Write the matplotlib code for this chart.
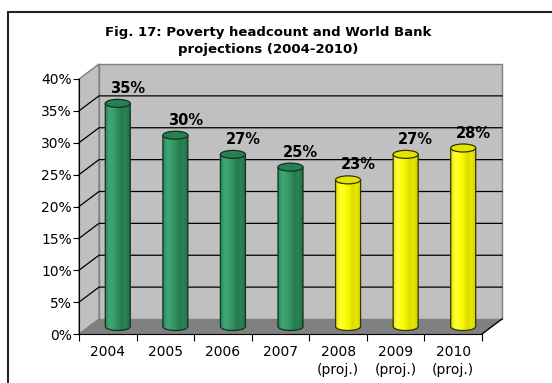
import numpy as np
import matplotlib
matplotlib.use("Agg")
import matplotlib.pyplot as plt
from matplotlib.patches import Polygon, Rectangle, Ellipse, PathPatch
from matplotlib.path import Path
from matplotlib.colors import LinearSegmentedColormap

years = ["2004", "2005", "2006", "2007", "2008\n(proj.)", "2009\n(proj.)", "2010\n(proj.)"]
headcount = [35, 30, 27, 25, 23, 27, 28]
projected = [False, False, False, False, True, True, True]
y_ticks = [0, 5, 10, 15, 20, 25, 30, 35, 40]

W, H = 552, 383
fig = plt.figure(figsize=(W / 100, H / 100), dpi=100)
fig.patch.set_facecolor("white")

# front plane of the 3-D box, in pixels
left, right, bottom, top = 79, 482, 334, 79
ax = fig.add_axes([left / W, 1 - bottom / H, (right - left) / W, (bottom - top) / H])
n = len(years)
ymax = 40
ax.set_xlim(0, n)
ax.set_ylim(0, ymax)

# depth offset of the back wall, in data units
DX = 20 / ((right - left) / n)
DY = 15 / ((bottom - top) / ymax)

wall = "#c0c0c0"
ax.add_patch(Polygon([(DX, DY), (n + DX, DY), (n + DX, ymax + DY), (DX, ymax + DY)],
                     closed=True, fc=wall, ec="#808080", lw=1, clip_on=False, zorder=0))
ax.add_patch(Polygon([(0, 0), (DX, DY), (DX, ymax + DY), (0, ymax)],
                     closed=True, fc=wall, ec="#808080", lw=1, clip_on=False, zorder=0))
ax.add_patch(Polygon([(0, 0), (n, 0), (n + DX, DY), (DX, DY)],
                     closed=True, fc="#808080", ec="none", clip_on=False, zorder=0.5))
ax.plot([n, n + DX], [0, DY], color="black", lw=1, clip_on=False, zorder=0.6)

for t in y_ticks[1:-1]:
    ax.plot([0, DX, n + DX], [t, t + DY, t + DY], color="black", lw=0.9,
            clip_on=False, zorder=0.4)

green = LinearSegmentedColormap.from_list(
    "g", ["#2c8757", "#3ea674", "#3b9f6d", "#31905f", "#267a4c", "#2b8354", "#236f46"])
yellow = LinearSegmentedColormap.from_list(
    "y", ["#e6e600", "#ffff40", "#ffff10", "#f5f500", "#dcdc00", "#e8e800", "#cfcf00"])

bw = 25 / ((right - left) / n)
eh = 8 / ((bottom - top) / ymax)
grad = np.linspace(0, 1, 64).reshape(1, -1)
theta = np.linspace(np.pi, 2 * np.pi, 40)

for i, (v, proj) in enumerate(zip(headcount, projected)):
    cx = i + 0.5 + DX / 2
    base = DY / 2
    x0, x1 = cx - bw / 2, cx + bw / 2
    arc = np.column_stack([cx + bw / 2 * np.cos(theta), base + eh / 2 * np.sin(theta)])
    verts = np.vstack([[x0, base + v], arc, [x1, base + v], [x0, base + v]])
    body = Path(verts, closed=True)
    cmap = yellow if proj else green
    outline = "#333300" if proj else "#0f3322"
    img = ax.imshow(grad, cmap=cmap, extent=(x0, x1, base - eh / 2, base + v),
                    aspect="auto", zorder=2, interpolation="bilinear")
    clip = PathPatch(body, fc="none", ec="none", transform=ax.transData)
    ax.add_patch(clip)
    img.set_clip_path(clip)
    ax.add_patch(PathPatch(body, fc="none", ec=outline, lw=0.9, zorder=3))
    ax.add_patch(Ellipse((cx, base + v), bw, eh, fc="#e4e400" if proj else "#2a7f50",
                         ec=outline, lw=0.9, zorder=4))
    ax.text(i + 0.5 + DX, v + DY, f"{v}%", ha="center", va="bottom",
            fontsize=10.5, fontweight="bold", zorder=5)

ax.set_xlim(0, n)
ax.set_ylim(0, ymax)

for s in ("top", "right"):
    ax.spines[s].set_visible(False)
ax.spines["left"].set_zorder(6)
ax.spines["bottom"].set_zorder(6)
ax.set_yticks(y_ticks)
ax.set_yticklabels([f"{t}%" for t in y_ticks], fontsize=10)
ax.set_xticks(range(n + 1))
ax.set_xticklabels([])
ax.set_xticks(np.arange(n) + 0.5, minor=True)
ax.set_xticklabels(years, minor=True, fontsize=10, linespacing=1.35)
ax.tick_params(axis="y", direction="out", length=4, pad=1)
ax.tick_params(axis="x", which="major", direction="out", length=5)
ax.tick_params(axis="x", which="minor", length=0, pad=8)
ax.patch.set_visible(False)

fig.text(268.5 / W, 1 - 41 / H, "Fig. 17: Poverty headcount and World Bank\nprojections (2004-2010)",
         ha="center", va="center", fontsize=9.5, fontweight="bold", linespacing=1.35)

fig.patches.append(Rectangle((8 / W, -0.1), 1.0, 1 - 12 / H + 0.1, transform=fig.transFigure,
                             fill=False, ec="#222222", lw=1.5))

fig.savefig("out.png", dpi=100)
